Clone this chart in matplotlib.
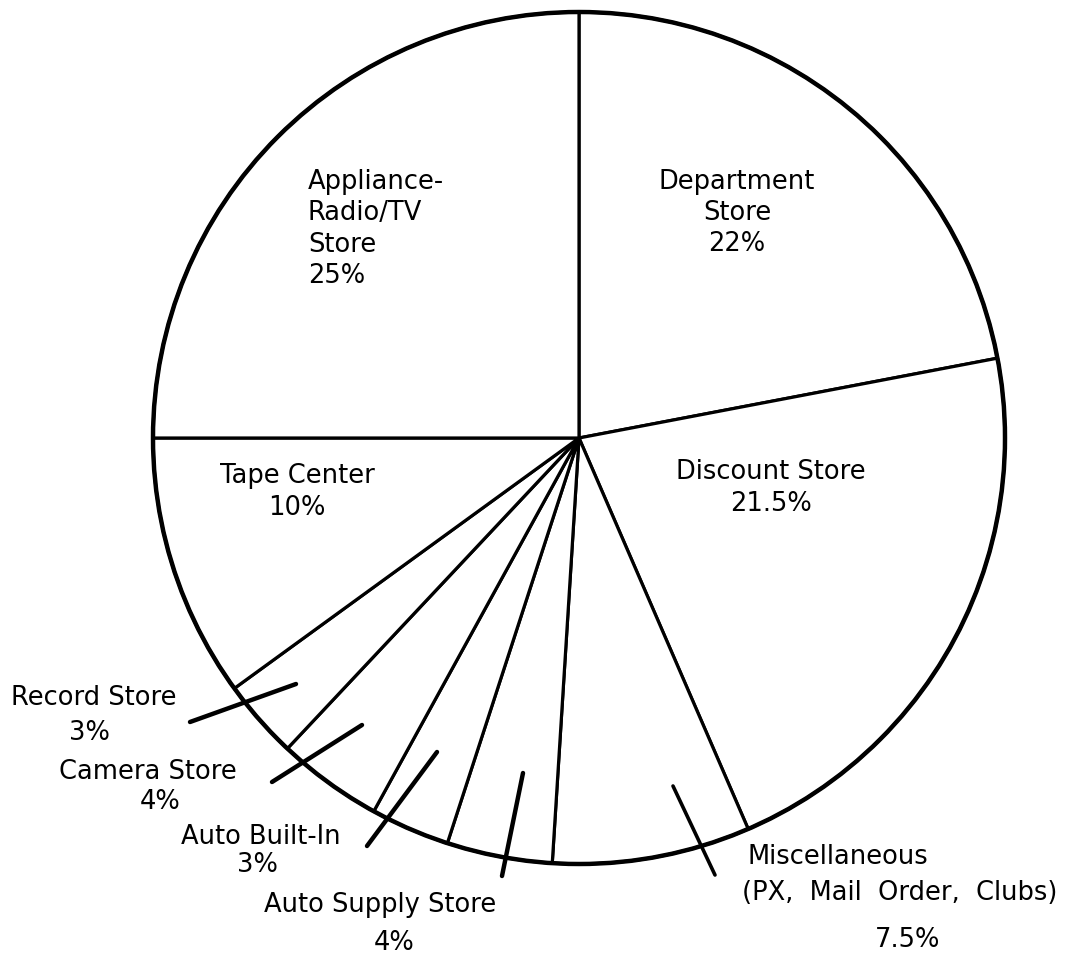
import matplotlib
matplotlib.use("Agg")
import matplotlib.pyplot as plt
from matplotlib.patches import Circle

# ---- data ----
categories = ["Department Store", "Discount Store", "Miscellaneous (PX, Mail Order, Clubs)",
              "Auto Supply Store", "Auto Built-In", "Camera Store", "Record Store",
              "Tape Center", "Appliance-Radio/TV Store"]
shares = [22, 21.5, 7.5, 4, 3, 4, 3, 10, 25]
pct_labels = ["22%", "21.5%", "7.5%", "4%", "3%", "4%", "3%", "10%", "25%"]

W, H = 1084, 955
FONT = "DejaVu Sans"
FS = 18.5

def px(x, y):
    return (x, H - y)

fig = plt.figure(figsize=(W / 100, H / 100), dpi=100)
ax = fig.add_axes([0, 0, 1, 1])
ax.set_xlim(0, W)
ax.set_ylim(0, H)
ax.set_aspect("equal")
ax.axis("off")

center = px(579, 438)
R = 426
ax.pie(shares, startangle=90, counterclock=False, center=center, radius=R,
       colors=["white"] * len(shares),
       wedgeprops=dict(edgecolor="black", linewidth=2.3, joinstyle="miter"))
ax.add_patch(Circle(center, R, fill=False, edgecolor="black", linewidth=3.2, zorder=5))
ax.set_xlim(0, W)
ax.set_ylim(0, H)

def txt(x, y, s, ha="center", ls=1.27):
    ax.text(*px(x, y), s, ha=ha, va="center", fontsize=FS, family=FONT,
            color="black", linespacing=ls, zorder=6)

# inside labels
txt(308, 229, "Appliance-\nRadio/TV\nStore\n" + pct_labels[8], ha="left")
txt(737, 213, "Department\nStore\n" + pct_labels[0])
txt(297, 492, "Tape Center\n" + pct_labels[7])
txt(771, 488, "Discount Store\n" + pct_labels[1])

# outside labels
txt(94, 698, "Record Store")
txt(89, 733, pct_labels[6])
txt(148, 772, "Camera Store")
txt(160, 802, pct_labels[5])
txt(261, 837, "Auto Built-In")
txt(257, 865, pct_labels[4])
txt(380, 905, "Auto Supply Store")
txt(394, 943, pct_labels[3])
txt(748, 857, "Miscellaneous", ha="left")
txt(742, 893, "(PX,  Mail  Order,  Clubs)", ha="left")
txt(908, 940, pct_labels[2])

# leader lines (annotation layout)
leaders = [((190, 722), (296, 684), 3.2),
           ((272, 782), (362, 725), 3.2),
           ((367, 846), (437, 752), 3.2),
           ((502, 876), (523, 773), 3.2),
           ((715, 875), (673, 786), 2.6)]
for (a, b, lw) in leaders:
    pa, pb = px(*a), px(*b)
    ax.plot([pa[0], pb[0]], [pa[1], pb[1]], color="black", linewidth=lw,
            solid_capstyle="round", zorder=7)

fig.savefig("out.png", dpi=100, facecolor="white")
